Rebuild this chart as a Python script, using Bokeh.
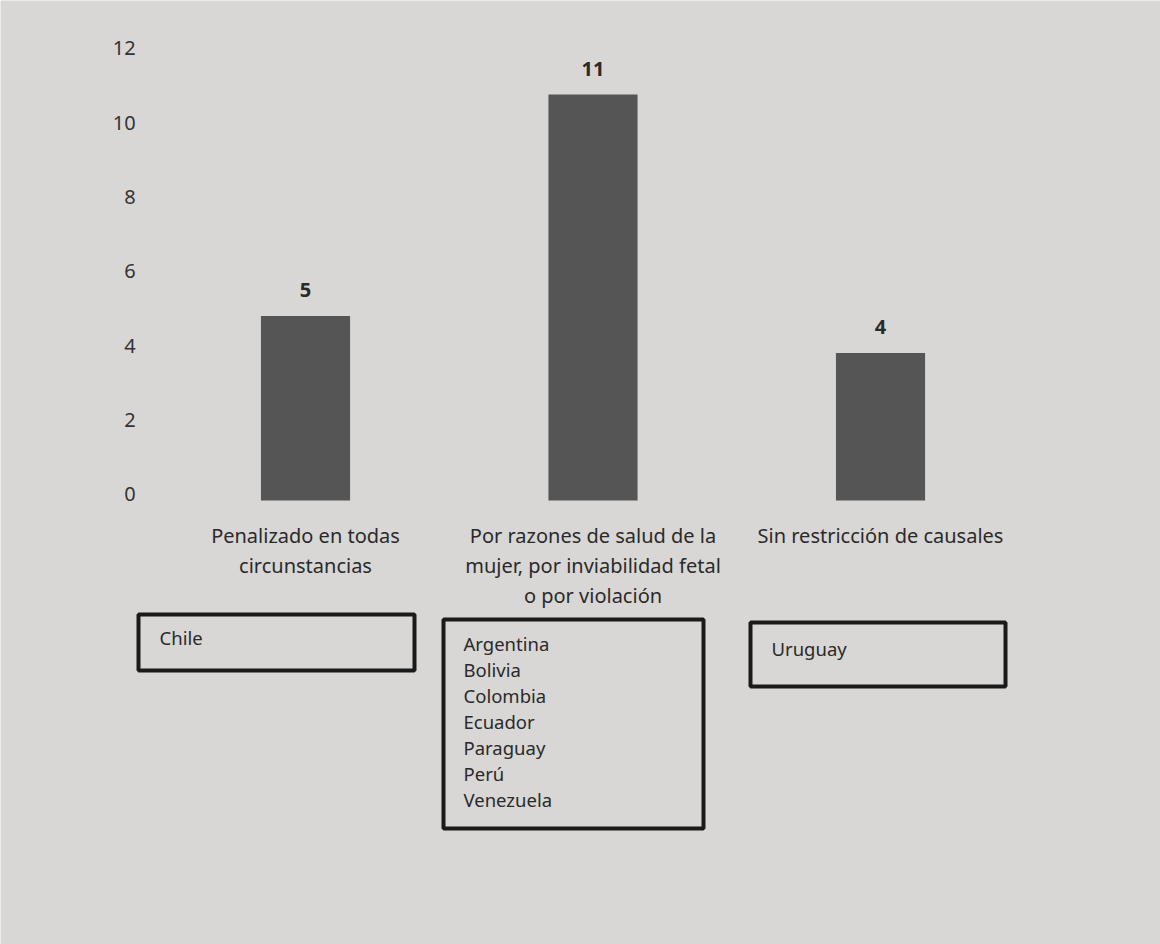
from bokeh.plotting import figure
from bokeh.models import ColumnDataSource, Range1d, FixedTicker, LinearAxis
from bokeh.embed import file_html
from bokeh.resources import INLINE
from bokeh.core.properties import value

# ---- data ----
categories = [
    "Penalizado en todas\ncircunstancias",
    "Por razones de salud de la\nmujer, por inviabilidad fetal\no por violación",
    "Sin restricción de causales",
]
counts = [5, 11, 4]
y_ticks = [0, 2, 4, 6, 8, 10, 12]
countries_1 = ["Chile"]
countries_2 = ["Argentina", "Bolivia", "Colombia", "Ecuador", "Paraguay", "Perú", "Venezuela"]
countries_3 = ["Uruguay"]

BG = "#d8d7d5"
BAR = "#555555"
FONT = "Noto Sans"
TXT = "#2a2a2a"

idx = list(range(len(categories)))

p = figure(
    width=1160, height=944,
    x_range=Range1d(-1.0609, 2.9739),
    y_range=Range1d(-12.033, 13.550),
    output_backend="svg", toolbar_location=None,
    min_border=0, y_axis_location=None,
    background_fill_color=BG, border_fill_color=BG,
)
p.outline_line_color = None
p.grid.visible = False

# bars + value labels
src = ColumnDataSource(dict(x=idx, val=counts, lab=[str(v) for v in counts]))
p.vbar(x="x", top="val", width=0.31, source=src, fill_color=BAR, line_color=None)
p.text(x="x", y="val", text="lab", source=src, text_align="center", text_baseline="bottom",
       y_offset=-19, text_font=value(FONT), text_font_size="20px", text_font_style="bold",
       text_color=TXT)

# y axis (labels only); the printed scale sits a few pixels above the bar scale
p.extra_y_ranges = {"ylab": Range1d(-12.107, 13.290), "px": Range1d(944, 0)}
ya = LinearAxis(y_range_name="ylab")
ya.fixed_location = -0.528
ya.ticker = FixedTicker(ticks=y_ticks)
ya.bounds = (0, 12)
ya.axis_line_color = None
ya.major_tick_line_color = None
ya.minor_tick_line_color = None
ya.major_label_standoff = 12
ya.major_label_text_font = FONT
ya.major_label_text_font_size = "20px"
ya.major_label_text_color = "#333333"
p.add_layout(ya, "left")

# x axis (category labels) sitting at y = 0
xa = p.xaxis[0]
xa.fixed_location = 0
xa.ticker = FixedTicker(ticks=idx)
xa.major_label_overrides = {i: c for i, c in zip(idx, categories)}
xa.axis_line_color = None
xa.major_tick_line_color = None
xa.minor_tick_line_color = None
xa.major_label_standoff = 16
xa.major_label_text_font = FONT
xa.major_label_text_font_size = "20px"
xa.major_label_text_color = TXT
xa.major_label_text_line_height = 1.1

# ---- country boxes (page-pixel layout range) ----
p.extra_x_ranges = {"px": Range1d(0, 1160)}

box_left = [138, 443, 750]
box_right = [414, 703, 1005]
box_top = [614, 619, 622]
box_bottom = [670, 828, 686]
p.quad(left=box_left, right=box_right, top=box_top, bottom=box_bottom,
       fill_color=None, line_color="#1a1a1a", line_width=4,
       x_range_name="px", y_range_name="px")

groups = [countries_1, countries_2, countries_3]
text_x = [159, 463, 771]
text_y0 = [637, 643, 648]
line_gap = 26
xs, ys, names = [], [], []
for g, tx, ty in zip(groups, text_x, text_y0):
    for i, name in enumerate(g):
        xs.append(tx)
        ys.append(ty + i * line_gap)
        names.append(name)
p.text(x=xs, y=ys, text=names, text_align="left", text_baseline="middle",
       text_font=value(FONT), text_font_size="18.5px", text_color=TXT,
       x_range_name="px", y_range_name="px")

open("out.html", "w").write(file_html(p, INLINE))
